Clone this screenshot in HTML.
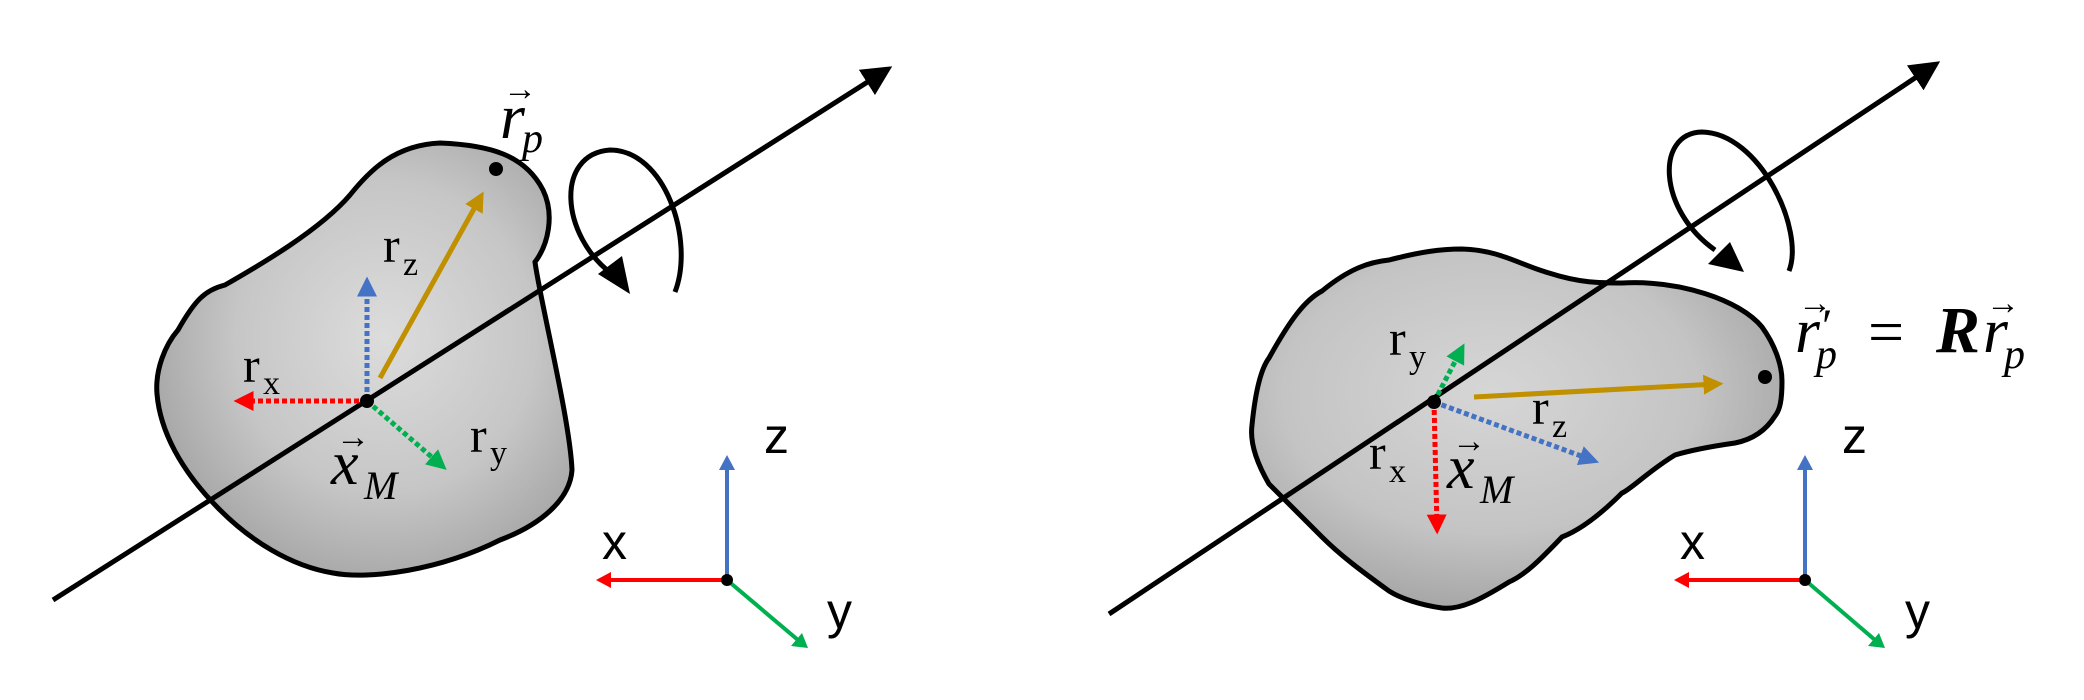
<!DOCTYPE html>
<html><head><meta charset="utf-8"><style>
html,body{margin:0;padding:0;background:#fff;}
svg{display:block}
.s{font-family:"Liberation Serif",serif;}
.i{font-family:"Liberation Serif",serif;font-style:italic;}
.a{font-family:"Liberation Sans",sans-serif;}
</style></head><body>
<svg width="2084" height="700" viewBox="0 0 2084 700" xmlns="http://www.w3.org/2000/svg">
<defs>
<radialGradient id="g1" cx="0.55" cy="0.45" r="0.6">
<stop offset="0" stop-color="#dcdcdc"/><stop offset="0.6" stop-color="#c6c6c6"/><stop offset="1" stop-color="#a4a4a4"/>
</radialGradient>
<radialGradient id="g2" cx="0.45" cy="0.4" r="0.65">
<stop offset="0" stop-color="#d6d6d6"/><stop offset="0.6" stop-color="#c4c4c4"/><stop offset="1" stop-color="#a0a0a0"/>
</radialGradient>
<marker id="mk" markerWidth="6" markerHeight="6" refX="5" refY="3" orient="auto" markerUnits="strokeWidth"><path d="M0,0 L6,3 L0,6 Z" fill="#000"/></marker>
<marker id="mg" markerWidth="4" markerHeight="4" refX="2.5" refY="2" orient="auto" markerUnits="strokeWidth"><path d="M0,0 L4,2 L0,4 Z" fill="#c09000"/></marker>
<marker id="mb" markerWidth="4" markerHeight="4" refX="2.5" refY="2" orient="auto" markerUnits="strokeWidth"><path d="M0,0 L4,2 L0,4 Z" fill="#4472c4"/></marker>
<marker id="mr" markerWidth="4" markerHeight="4" refX="2.5" refY="2" orient="auto" markerUnits="strokeWidth"><path d="M0,0 L4,2 L0,4 Z" fill="#ff0000"/></marker>
<marker id="mG" markerWidth="4" markerHeight="4" refX="2.5" refY="2" orient="auto" markerUnits="strokeWidth"><path d="M0,0 L4,2 L0,4 Z" fill="#00b050"/></marker>
</defs>

<!-- LEFT PANEL -->
<path d="M440,143 C490,145 525,155 543,190 C555,215 548,245 535,262 C540,300 570,420 572,470 C570,500 540,525 500,540 C440,570 370,580 333,573 C290,566 250,540 220,510 C180,470 160,430 157,394 C155,370 165,345 178,330 C195,300 205,290 225,285 C260,265 320,230 350,195 C370,170 395,145 440,143 Z" fill="url(#g1)" stroke="#000" stroke-width="5"/>
<line x1="53" y1="600" x2="888" y2="69" stroke="#000" stroke-width="5" marker-end="url(#mk)"/>
<line x1="380" y1="378" x2="480" y2="198" stroke="#c09000" stroke-width="5" marker-end="url(#mg)"/>
<line x1="367" y1="400" x2="367" y2="284" stroke="#4472c4" stroke-width="5" stroke-dasharray="5,3" marker-end="url(#mb)"/>
<line x1="367" y1="401" x2="241" y2="401" stroke="#ff0000" stroke-width="5" stroke-dasharray="5,3" marker-end="url(#mr)"/>
<line x1="367" y1="401" x2="441" y2="465" stroke="#00b050" stroke-width="5" stroke-dasharray="5,3" marker-end="url(#mG)"/>
<circle cx="367" cy="401" r="7" fill="#000"/>
<circle cx="496" cy="169" r="7" fill="#000"/>
<path d="M675,292 C695,240 665,150 610,150 C555,154 560,235 612,274" fill="none" stroke="#000" stroke-width="5"/>
<path d="M630,294 L598,274 L622,256 Z" fill="#000"/>
<text class="s" x="383" y="262" font-size="50">r</text><text class="s" x="403" y="275" font-size="34">z</text>
<text class="s" x="243" y="382" font-size="50">r</text><text class="s" x="263" y="394" font-size="34">x</text>
<text class="s" x="470" y="452" font-size="50">r</text><text class="s" x="490" y="464" font-size="34">y</text>
<text class="i" x="331" y="484" font-size="62">x</text><text class="i" x="364" y="499" font-size="40">M</text>
<text class="s" x="336" y="448" font-size="34">→</text>
<text class="i" x="500" y="138" font-size="64">r</text><text class="i" x="522" y="152" font-size="42">p</text>
<text class="s" x="503" y="100" font-size="34">→</text>
<line x1="727" y1="580" x2="727" y2="466" stroke="#4472c4" stroke-width="4"/><path d="M719,470 L727,455 L735,470 Z" fill="#4472c4"/>
<line x1="727" y1="580" x2="608" y2="580" stroke="#ff0000" stroke-width="4"/><path d="M611,572 L596,580 L611,588 Z" fill="#ff0000"/>
<line x1="727" y1="580" x2="798" y2="640" stroke="#00b050" stroke-width="4"/><path d="M791,646 L808,648 L802,633 Z" fill="#00b050"/>
<circle cx="727" cy="580" r="6" fill="#000"/>
<text class="a" x="764" y="453" font-size="50">z</text>
<text class="a" x="602" y="559" font-size="50">x</text>
<text class="a" x="827" y="628" font-size="50">y</text>

<!-- RIGHT PANEL -->
<path d="M1462,249 C1500,250 1520,265 1549,273 C1580,283 1600,283 1622,283 C1680,280 1740,300 1762,327 C1775,345 1782,365 1782,381 C1782,400 1780,410 1775,416 C1765,432 1750,440 1735,443 C1700,448 1685,452 1675,455 C1650,470 1630,490 1622,493 C1600,515 1580,530 1562,537 C1540,560 1525,575 1509,582 C1480,600 1460,610 1442,608 C1420,605 1400,598 1389,591 C1360,570 1340,555 1322,537 C1295,510 1280,495 1269,484 C1255,460 1250,440 1252,425 C1255,395 1260,370 1269,358 C1290,320 1305,300 1322,291 C1350,268 1370,262 1389,260 C1420,252 1440,249 1462,249 Z" fill="url(#g2)" stroke="#000" stroke-width="5"/>
<line x1="1109" y1="614" x2="1936" y2="64" stroke="#000" stroke-width="5" marker-end="url(#mk)"/>
<line x1="1474" y1="397" x2="1716" y2="384" stroke="#c09000" stroke-width="5" marker-end="url(#mg)"/>
<line x1="1434" y1="402" x2="1461" y2="350" stroke="#00b050" stroke-width="5" stroke-dasharray="5,3" marker-end="url(#mG)"/>
<line x1="1434" y1="402" x2="1437" y2="527" stroke="#ff0000" stroke-width="5" stroke-dasharray="5,3" marker-end="url(#mr)"/>
<line x1="1434" y1="402" x2="1592" y2="460" stroke="#4472c4" stroke-width="5" stroke-dasharray="5,3" marker-end="url(#mb)"/>
<circle cx="1434" cy="402" r="7" fill="#000"/>
<circle cx="1765" cy="377" r="7" fill="#000"/>
<path d="M1789,271 C1805,230 1760,133 1702,132 C1655,133 1658,210 1715,250" fill="none" stroke="#000" stroke-width="5"/>
<path d="M1744,272 L1708,264 L1730,242 Z" fill="#000"/>
<text class="s" x="1389" y="355" font-size="50">r</text><text class="s" x="1409" y="368" font-size="34">y</text>
<text class="s" x="1532" y="424" font-size="50">r</text><text class="s" x="1552" y="437" font-size="34">z</text>
<text class="s" x="1369" y="469" font-size="50">r</text><text class="s" x="1389" y="482" font-size="34">x</text>
<text class="i" x="1447" y="488" font-size="62">x</text><text class="i" x="1480" y="503" font-size="40">M</text>
<text class="s" x="1452" y="452" font-size="34">→</text>
<text class="i" x="1795" y="352" font-size="64">r</text><text class="i" x="1816" y="368" font-size="42">p</text>
<text class="s" x="1822" y="342" font-size="48">′</text>
<text class="s" x="1798" y="314" font-size="34">→</text>
<text class="s" x="1868" y="353" font-size="64">=</text>
<text class="i" x="1936" y="352" font-size="66" font-weight="bold">R</text>
<text class="i" x="1983" y="352" font-size="64">r</text><text class="i" x="2004" y="368" font-size="42">p</text>
<text class="s" x="1986" y="314" font-size="34">→</text>
<line x1="1805" y1="580" x2="1805" y2="466" stroke="#4472c4" stroke-width="4"/><path d="M1797,470 L1805,455 L1813,470 Z" fill="#4472c4"/>
<line x1="1805" y1="580" x2="1686" y2="580" stroke="#ff0000" stroke-width="4"/><path d="M1689,572 L1674,580 L1689,588 Z" fill="#ff0000"/>
<line x1="1805" y1="580" x2="1875" y2="640" stroke="#00b050" stroke-width="4"/><path d="M1868,646 L1885,648 L1879,633 Z" fill="#00b050"/>
<circle cx="1805" cy="580" r="6" fill="#000"/>
<text class="a" x="1842" y="453" font-size="50">z</text>
<text class="a" x="1680" y="559" font-size="50">x</text>
<text class="a" x="1905" y="628" font-size="50">y</text>
</svg>
</body></html>
